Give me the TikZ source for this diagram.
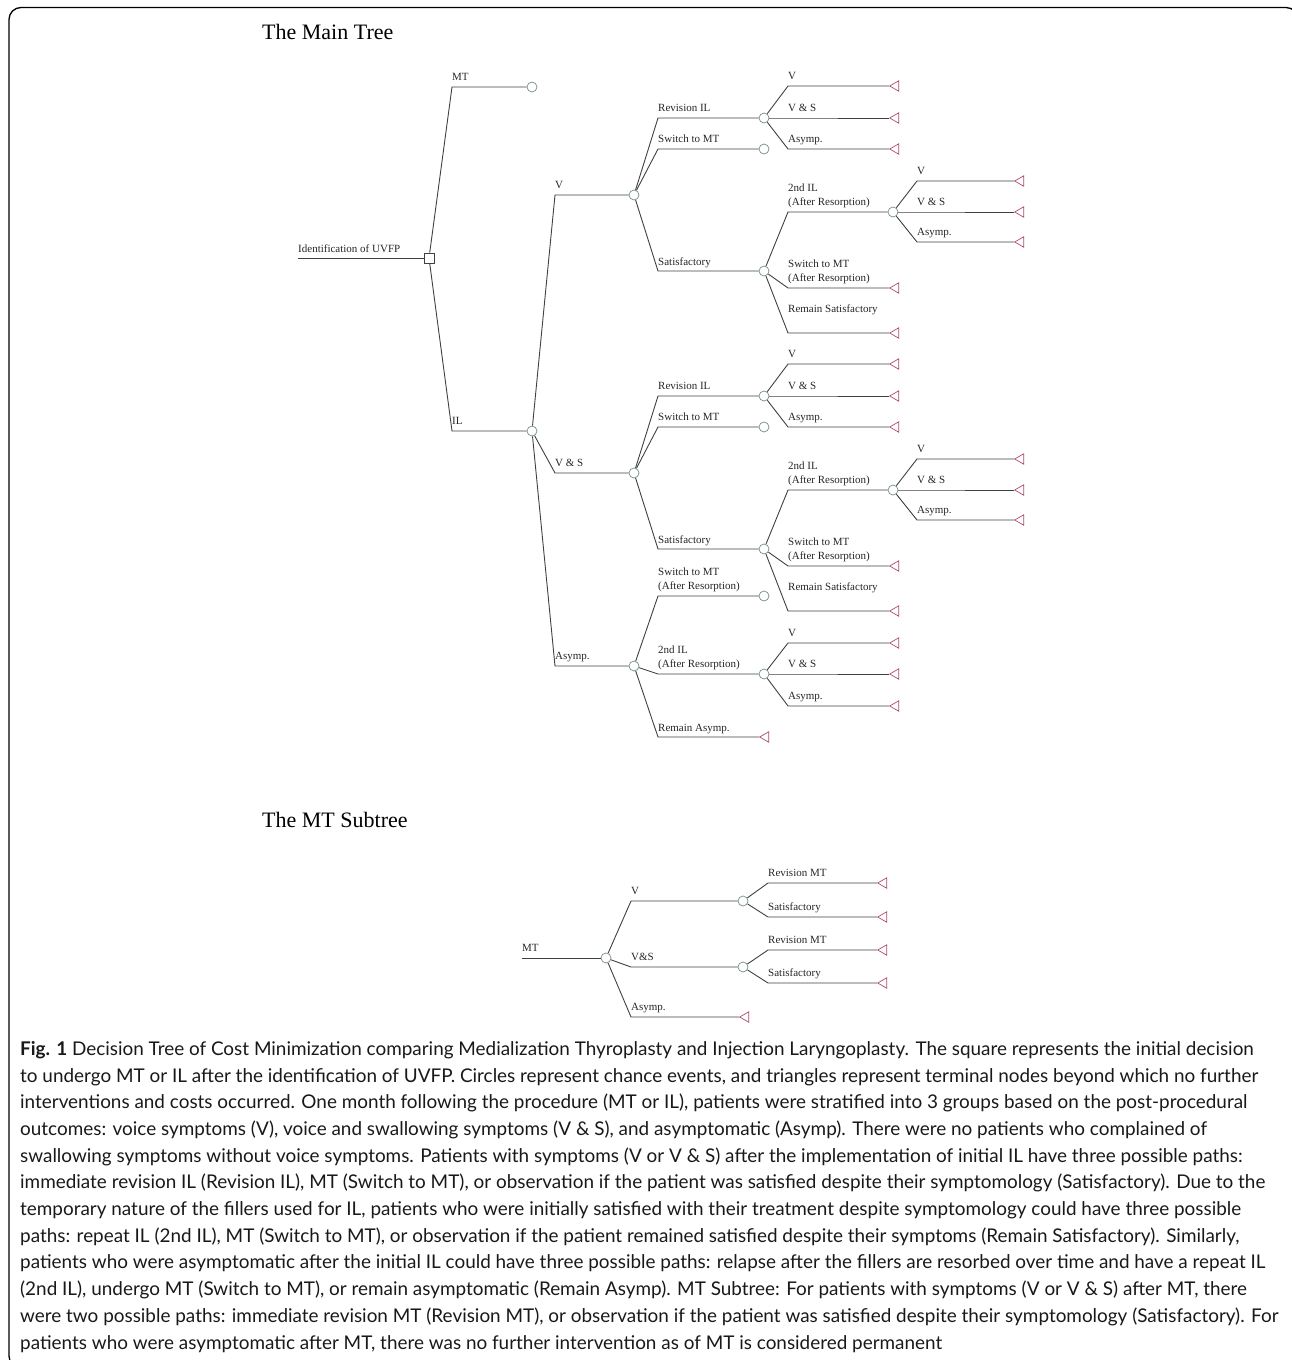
\documentclass[tikz,border=0pt]{standalone}
\usepackage{fontspec}
\setmainfont{Liberation Serif}
\newfontfamily\capfont{Lato}
\usetikzlibrary{shapes.geometric}
\definecolor{linecol}{HTML}{404040}
\definecolor{chancecol}{HTML}{6F9080}
\definecolor{termcol}{HTML}{B04A68}

\begin{document}
\begin{tikzpicture}[x=1pt, y=-1pt,
    branch/.style={draw=linecol, line width=0.9pt},
    chance/.style={circle, draw=chancecol, line width=0.7pt, minimum size=10pt, inner sep=0pt},
    decide/.style={rectangle, draw=linecol, line width=0.7pt, minimum size=10pt, inner sep=0pt},
    term/.style={regular polygon, regular polygon sides=3, shape border rotate=90, draw=termcol, line width=0.7pt, minimum size=12pt, inner sep=0pt, anchor=west},
    lbl/.style={font=\fontsize{11}{14}\selectfont, text=black!85, inner sep=0pt, anchor=base west, align=left},
    title/.style={font=\fontsize{22}{26}\selectfont, inner sep=0pt, anchor=base west},
    capnode/.style={font={\capfont\fontsize{18.9}{26.7}\selectfont}, text=black!90, inner sep=0pt, anchor=base west, align=left}]
    \useasboundingbox (0,0) rectangle (1292,1360);

    % 枠
    \begin{scope}
      \clip (0,0) rectangle (1292,1360);
      \draw[line width=1.3pt, rounded corners=12pt] (9,7.5) rectangle (1298,1368);
    \end{scope}

    % 主木
    \node[title] (T1) at (262,39) {The Main Tree};

    \coordinate (start) at (298,258);
    \node[decide] (D) at (429,258) {};
    \node[lbl] (D_label) at (298,252) {Identification of UVFP};

    \coordinate (MT_e) at (452,87);
    \node[chance] (MT) at (532,87) {};
    \node[lbl] (MT_label) at (452,80) {MT};
    \coordinate (IL_e) at (452,431);
    \node[chance] (IL) at (532,431) {};
    \node[lbl] (IL_label) at (452,424) {IL};

    \draw[branch] (start) -- (D);
    \draw[branch] (D) -- (MT_e) -- (MT);
    \draw[branch] (D) -- (IL_e) -- (IL);

    % IL -> V
    \coordinate (V_e) at (555,195);
    \node[chance] (V) at (634,195) {};
    \node[lbl] (V_label) at (555,188) {V};
    \coordinate (V1_e) at (658,118);
    \node[chance] (V1) at (764,118) {};
    \node[lbl] (V1_label) at (658,111) {Revision IL};
    \coordinate (V2_e) at (658,149);
    \node[chance] (V2) at (764,149) {};
    \node[lbl] (V2_label) at (658,142) {Switch to MT};
    \coordinate (V3_e) at (658,271);
    \node[chance] (V3) at (764,271) {};
    \node[lbl] (V3_label) at (658,265) {Satisfactory};

    \coordinate (V1a_e) at (788,86);
    \node[term] (V1a) at (889,86) {};
    \node[lbl] (V1a_label) at (788,79) {V};
    \coordinate (V1b_e) at (788,118);
    \node[term] (V1b) at (889,118) {};
    \node[lbl] (V1b_label) at (788,111) {V \& S};
    \coordinate (V1c_e) at (788,149);
    \node[term] (V1c) at (889,149) {};
    \node[lbl] (V1c_label) at (788,142) {Asymp.};

    \coordinate (V3a_e) at (788,212);
    \node[chance] (V3a) at (893,212) {};
    \node[lbl] (V3a_label) at (788,205) {2nd IL\\(After Resorption)};
    \coordinate (V3b_e) at (788,288);
    \node[term] (V3b) at (889,288) {};
    \node[lbl] (V3b_label) at (788,281) {Switch to MT\\(After Resorption)};
    \coordinate (V3c_e) at (788,333);
    \node[term] (V3c) at (889,333) {};
    \node[lbl] (V3c_label) at (788,312) {Remain Satisfactory};

    \coordinate (V3a1_e) at (917,181);
    \node[term] (V3a1) at (1014,181) {};
    \node[lbl] (V3a1_label) at (917,174) {V};
    \coordinate (V3a2_e) at (917,212);
    \node[term] (V3a2) at (1014,212) {};
    \node[lbl] (V3a2_label) at (917,205) {V \& S};
    \coordinate (V3a3_e) at (917,242);
    \node[term] (V3a3) at (1014,242) {};
    \node[lbl] (V3a3_label) at (917,235) {Asymp.};

    \draw[branch] (IL) -- (V_e) -- (V);
    \draw[branch] (V) -- (V1_e) -- (V1);
    \draw[branch] (V) -- (V2_e) -- (V2);
    \draw[branch] (V) -- (V3_e) -- (V3);
    \draw[branch] (V1) -- (V1a_e) -- (V1a);
    \draw[branch] (V1) -- (V1b_e) -- (V1b);
    \draw[branch] (V1) -- (V1c_e) -- (V1c);
    \draw[branch] (V3) -- (V3a_e) -- (V3a);
    \draw[branch] (V3) -- (V3b_e) -- (V3b);
    \draw[branch] (V3) -- (V3c_e) -- (V3c);
    \draw[branch] (V3a) -- (V3a1_e) -- (V3a1);
    \draw[branch] (V3a) -- (V3a2_e) -- (V3a2);
    \draw[branch] (V3a) -- (V3a3_e) -- (V3a3);

    % IL -> V & S
    \coordinate (S_e) at (555,473);
    \node[chance] (S) at (634,473) {};
    \node[lbl] (S_label) at (555,466) {V \& S};
    \coordinate (S1_e) at (658,396);
    \node[chance] (S1) at (764,396) {};
    \node[lbl] (S1_label) at (658,389) {Revision IL};
    \coordinate (S2_e) at (658,427);
    \node[chance] (S2) at (764,427) {};
    \node[lbl] (S2_label) at (658,420) {Switch to MT};
    \coordinate (S3_e) at (658,549);
    \node[chance] (S3) at (764,549) {};
    \node[lbl] (S3_label) at (658,543) {Satisfactory};

    \coordinate (S1a_e) at (788,364);
    \node[term] (S1a) at (889,364) {};
    \node[lbl] (S1a_label) at (788,357) {V};
    \coordinate (S1b_e) at (788,396);
    \node[term] (S1b) at (889,396) {};
    \node[lbl] (S1b_label) at (788,389) {V \& S};
    \coordinate (S1c_e) at (788,427);
    \node[term] (S1c) at (889,427) {};
    \node[lbl] (S1c_label) at (788,420) {Asymp.};

    \coordinate (S3a_e) at (788,490);
    \node[chance] (S3a) at (893,490) {};
    \node[lbl] (S3a_label) at (788,483) {2nd IL\\(After Resorption)};
    \coordinate (S3b_e) at (788,566);
    \node[term] (S3b) at (889,566) {};
    \node[lbl] (S3b_label) at (788,559) {Switch to MT\\(After Resorption)};
    \coordinate (S3c_e) at (788,611);
    \node[term] (S3c) at (889,611) {};
    \node[lbl] (S3c_label) at (788,590) {Remain Satisfactory};

    \coordinate (S3a1_e) at (917,459);
    \node[term] (S3a1) at (1014,459) {};
    \node[lbl] (S3a1_label) at (917,452) {V};
    \coordinate (S3a2_e) at (917,490);
    \node[term] (S3a2) at (1014,490) {};
    \node[lbl] (S3a2_label) at (917,483) {V \& S};
    \coordinate (S3a3_e) at (917,520);
    \node[term] (S3a3) at (1014,520) {};
    \node[lbl] (S3a3_label) at (917,513) {Asymp.};

    \draw[branch] (IL) -- (S_e) -- (S);
    \draw[branch] (S) -- (S1_e) -- (S1);
    \draw[branch] (S) -- (S2_e) -- (S2);
    \draw[branch] (S) -- (S3_e) -- (S3);
    \draw[branch] (S1) -- (S1a_e) -- (S1a);
    \draw[branch] (S1) -- (S1b_e) -- (S1b);
    \draw[branch] (S1) -- (S1c_e) -- (S1c);
    \draw[branch] (S3) -- (S3a_e) -- (S3a);
    \draw[branch] (S3) -- (S3b_e) -- (S3b);
    \draw[branch] (S3) -- (S3c_e) -- (S3c);
    \draw[branch] (S3a) -- (S3a1_e) -- (S3a1);
    \draw[branch] (S3a) -- (S3a2_e) -- (S3a2);
    \draw[branch] (S3a) -- (S3a3_e) -- (S3a3);

    % IL -> Asymp.
    \coordinate (A_e) at (555,666);
    \node[chance] (A) at (634,666) {};
    \node[lbl] (A_label) at (555,659) {Asymp.};
    \coordinate (A1_e) at (658,596);
    \node[chance] (A1) at (764,596) {};
    \node[lbl] (A1_label) at (658,589) {Switch to MT\\(After Resorption)};
    \coordinate (A2_e) at (658,674);
    \node[chance] (A2) at (764,674) {};
    \node[lbl] (A2_label) at (658,667) {2nd IL\\(After Resorption)};
    \coordinate (A3_e) at (658,737);
    \node[term] (A3) at (759,737) {};
    \node[lbl] (A3_label) at (658,731) {Remain Asymp.};

    \coordinate (A2a_e) at (788,643);
    \node[term] (A2a) at (889,643) {};
    \node[lbl] (A2a_label) at (788,636) {V};
    \coordinate (A2b_e) at (788,674);
    \node[term] (A2b) at (889,674) {};
    \node[lbl] (A2b_label) at (788,667) {V \& S};
    \coordinate (A2c_e) at (788,706);
    \node[term] (A2c) at (889,706) {};
    \node[lbl] (A2c_label) at (788,699) {Asymp.};

    \draw[branch] (IL) -- (A_e) -- (A);
    \draw[branch] (A) -- (A1_e) -- (A1);
    \draw[branch] (A) -- (A2_e) -- (A2);
    \draw[branch] (A) -- (A3_e) -- (A3);
    \draw[branch] (A2) -- (A2a_e) -- (A2a);
    \draw[branch] (A2) -- (A2b_e) -- (A2b);
    \draw[branch] (A2) -- (A2c_e) -- (A2c);

    % MT の部分木
    \node[title] (T2) at (262,827) {The MT Subtree};

    \coordinate (M_start) at (522,958);
    \node[chance] (M) at (606,958) {};
    \node[lbl] (M_label) at (522,951) {MT};
    \coordinate (MV_e) at (631,901);
    \node[chance] (MV) at (743,901) {};
    \node[lbl] (MV_label) at (631,894) {V};
    \coordinate (MS_e) at (631,967);
    \node[chance] (MS) at (743,967) {};
    \node[lbl] (MS_label) at (631,960) {V\&S};
    \coordinate (MA_e) at (631,1017);
    \node[term] (MA) at (739,1017) {};
    \node[lbl] (MA_label) at (631,1010) {Asymp.};

    \coordinate (MV1_e) at (768,883);
    \node[term] (MV1) at (877,883) {};
    \node[lbl] (MV1_label) at (768,876) {Revision MT};
    \coordinate (MV2_e) at (768,917);
    \node[term] (MV2) at (877,917) {};
    \node[lbl] (MV2_label) at (768,910) {Satisfactory};
    \coordinate (MS1_e) at (768,950);
    \node[term] (MS1) at (877,950) {};
    \node[lbl] (MS1_label) at (768,943) {Revision MT};
    \coordinate (MS2_e) at (768,983);
    \node[term] (MS2) at (877,983) {};
    \node[lbl] (MS2_label) at (768,976) {Satisfactory};

    \draw[branch] (M_start) -- (M);
    \draw[branch] (M) -- (MV_e) -- (MV);
    \draw[branch] (M) -- (MS_e) -- (MS);
    \draw[branch] (M) -- (MA_e) -- (MA);
    \draw[branch] (MV) -- (MV1_e) -- (MV1);
    \draw[branch] (MV) -- (MV2_e) -- (MV2);
    \draw[branch] (MS) -- (MS1_e) -- (MS1);
    \draw[branch] (MS) -- (MS2_e) -- (MS2);

    % キャプション (基準は最終行)
    \node[capnode] (caption) at (20,1349) {\textbf{Fig. 1} Decision Tree of Cost Minimization comparing Medialization Thyroplasty and Injection Laryngoplasty. The square represents the initial decision\\
to undergo MT or IL after the identification of UVFP. Circles represent chance events, and triangles represent terminal nodes beyond which no further\\
interventions and costs occurred. One month following the procedure (MT or IL), patients were stratified into 3 groups based on the post-procedural\\
outcomes: voice symptoms (V), voice and swallowing symptoms (V \& S), and asymptomatic (Asymp). There were no patients who complained of\\
swallowing symptoms without voice symptoms. Patients with symptoms (V or V \& S) after the implementation of initial IL have three possible paths:\\
immediate revision IL (Revision IL), MT (Switch to MT), or observation if the patient was satisfied despite their symptomology (Satisfactory). Due to the\\
temporary nature of the fillers used for IL, patients who were initially satisfied with their treatment despite symptomology could have three possible\\
paths: repeat IL (2nd IL), MT (Switch to MT), or observation if the patient remained satisfied despite their symptoms (Remain Satisfactory). Similarly,\\
patients who were asymptomatic after the initial IL could have three possible paths: relapse after the fillers are resorbed over time and have a repeat IL\\
(2nd IL), undergo MT (Switch to MT), or remain asymptomatic (Remain Asymp). MT Subtree: For patients with symptoms (V or V \& S) after MT, there\\
were two possible paths: immediate revision MT (Revision MT), or observation if the patient was satisfied despite their symptomology (Satisfactory). For\\
patients who were asymptomatic after MT, there was no further intervention as of MT is considered permanent};

  \end{tikzpicture}
\end{document}
